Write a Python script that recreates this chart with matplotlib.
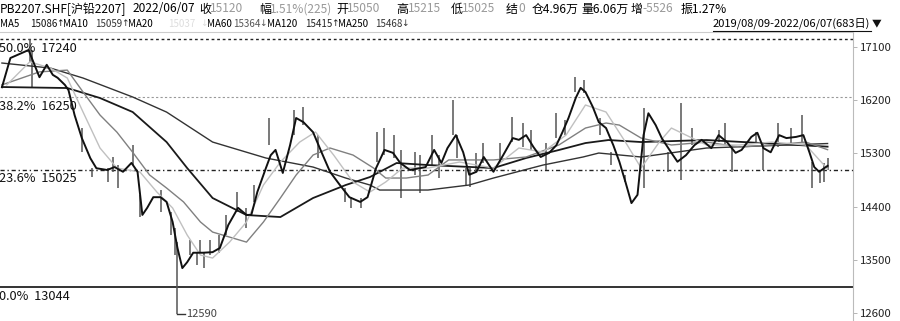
import matplotlib
matplotlib.use("Agg")
import matplotlib.pyplot as plt
from matplotlib.transforms import blended_transform_factory
from matplotlib.lines import Line2D

plt.rcParams['font.family'] = ['Noto Sans CJK SC', 'DejaVu Sans']

# MA5 path (trading-day index, price)
ma5_day = [0, 7, 22, 31, 37, 42, 46, 52, 55, 60, 66, 73, 78, 87, 93, 100, 107, 112, 116, 120,
           125, 131, 136, 141, 145, 149, 153, 158, 166, 174, 180, 187, 195, 202, 206, 211, 218,
           222, 226, 232, 238, 243, 249, 257, 264, 271, 279, 287, 296, 302, 309, 316, 323, 329,
           337, 345, 350, 357, 363, 368, 375, 381, 386, 392, 398, 406, 414, 422, 427, 433, 439,
           445, 452, 458, 463, 468, 474, 478, 482, 488, 493, 499, 505, 510, 515, 520, 525, 530,
           534, 540, 545, 553, 558, 565, 572, 578, 586, 592, 599, 606, 611, 619, 624, 629, 635,
           642, 648, 656, 662, 667, 671, 675, 682]
ma5_val = [16420, 16915, 17050, 16590, 16800, 16630, 16580, 16460, 16370, 15950, 15560, 15220,
           15050, 15020, 15070, 14990, 15140, 14990, 14260, 14380, 14560, 14560, 14480, 14140,
           13700, 13360, 13460, 13620, 13620, 13630, 13700, 14090, 14380, 14260, 14260, 14650,
           15050, 15270, 15360, 14970, 15440, 15900, 15830, 15660, 15320, 14990, 14770, 14560,
           14480, 14560, 15050, 15360, 15310, 15140, 15020, 15050, 15070, 15360, 15140, 15390,
           15610, 15320, 14940, 14990, 15240, 14990, 15270, 15560, 15530, 15610, 15410, 15240,
           15310, 15440, 15660, 15900, 16240, 16410, 16340, 16090, 15830, 15730, 15440, 15160,
           14820, 14460, 14600, 15610, 15980, 15780, 15560, 15310, 15160, 15270, 15440, 15530,
           15390, 15610, 15490, 15310, 15360, 15580, 15650, 15390, 15320, 15610, 15560, 15580,
           15610, 15320, 15070, 14990, 15090]

ma20_day = [4, 23, 40, 54, 67, 81, 95, 114, 128, 141, 153, 164, 174, 188, 202, 216, 230, 246,
            259, 274, 290, 304, 317, 331, 352, 378, 406, 427, 447, 466, 482, 499, 515, 528, 543,
            553, 582, 609, 636, 664, 682]
ma20_val = [16460, 16850, 16745, 16576, 16001, 15392, 15053, 14986, 14647, 14377, 13920, 13581,
            13530, 13800, 14140, 14766, 15155, 15493, 15663, 15273, 14817, 14647, 14817, 15053,
            15053, 15155, 15053, 15392, 15324, 15612, 16120, 16001, 15493, 15053, 15493, 15730,
            15443, 15443, 15493, 15443, 15037]

ma60_day = [0, 31, 54, 67, 81, 95, 108, 122, 136, 150, 164, 174, 202, 216, 230, 243, 257, 271,
            290, 307, 317, 334, 352, 369, 406, 433, 460, 482, 499, 510, 528, 553, 582, 609, 636,
            664, 682]
ma60_val = [16460, 16680, 16710, 16340, 15950, 15660, 15320, 14935, 14715, 14480, 14140, 13970,
            13800, 14140, 14546, 14935, 15273, 15392, 15273, 15053, 14884, 14884, 14935, 15190,
            15190, 15240, 15443, 15730, 15815, 15780, 15560, 15443, 15493, 15410, 15443, 15493,
            15364]

ma120_day = [0, 54, 81, 108, 136, 153, 174, 202, 230, 257, 284, 304, 326, 352, 406, 433, 460,
             482, 501, 528, 582, 682]
ma120_val = [16424, 16407, 16238, 16001, 15493, 15053, 14546, 14258, 14224, 14546, 14766, 14901,
             15138, 15104, 15053, 15223, 15358, 15476, 15527, 15493, 15527, 15415]

ma250_day = [0, 40, 67, 108, 136, 174, 218, 257, 284, 304, 312, 352, 386, 406, 447, 480, 493,
             528, 582, 682]
ma250_val = [16830, 16745, 16576, 16255, 16000, 15493, 15223, 15070, 14884, 14766, 14681, 14681,
             14766, 14884, 15104, 15240, 15307, 15240, 15392, 15468]

# candle high/low spikes
wick_day = [23, 25, 66, 74, 88, 92, 96, 108, 114, 131, 140, 143, 145, 155, 161, 164, 167, 172,
            179, 185, 194, 202, 208, 221, 241, 249, 261, 283, 288, 297, 310, 316, 324, 330, 341,
            345, 355, 361, 373, 376, 383, 387, 392, 397, 411, 421, 430, 437, 449, 458, 465, 473,
            481, 494, 503, 515, 530, 550, 561, 570, 592, 597, 603, 623, 629, 641, 652, 661, 669,
            676, 679, 682]
wick_hi = [17240, 17050, 15730, 15050, 15050, 15240, 15100, 15440, 14600, 14680, 14310, 14040,
           13800, 13840, 13630, 13840, 13630, 13840, 13920, 14260, 14650, 14380, 14770, 15900,
           16040, 16090, 15610, 14720, 14560, 14550, 15660, 15730, 15610, 15360, 15320, 15270,
           15610, 15270, 16200, 15610, 15050, 15050, 15310, 15480, 15480, 15920, 15820, 15700,
           15480, 15980, 15870, 16590, 16540, 15900, 15320, 14940, 16070, 15320, 16150, 15730,
           15700, 15820, 15440, 15660, 15490, 15820, 15730, 15950, 15160, 14990, 15140, 15215]
wick_lo = [16850, 16420, 15320, 14900, 14820, 14990, 14720, 15100, 14220, 14310, 13920, 13580,
           12590, 13580, 13410, 13630, 13360, 13580, 13620, 13920, 14310, 14040, 14480, 15440,
           15610, 15780, 15220, 14480, 14380, 14380, 15160, 15270, 15220, 14550, 14940, 14630,
           15100, 14880, 15610, 15220, 14770, 14730, 14990, 15140, 15160, 15490, 15410, 15360,
           15020, 15560, 15610, 16340, 16320, 15610, 15100, 14820, 14720, 14990, 14850, 15440,
           15490, 15440, 14990, 15490, 15020, 15410, 15440, 15490, 14720, 14800, 14820, 15025]

fib_pct = ["50.0%", "38.2%", "23.6%", "0.0%"]
fib_val = [17240, 16250, 15025, 13044]
y_ticks = [12600, 13500, 14400, 15300, 16200, 17100]
low_day, low_val = 145, 12590

W, H = 900, 321
fig = plt.figure(figsize=(W / 100, H / 100), dpi=100)
ax = fig.add_axes([0, 0, 853 / W, 289 / H])
ax.set_xlim(-1.6, 703)
ax.set_ylim(12465, 17355)

ax.vlines(wick_day, wick_lo, wick_hi, color="#555555", lw=1.1, zorder=2)
ax.plot(ma250_day, ma250_val, color="#333333", lw=1.0, zorder=3)
ax.plot(ma120_day, ma120_val, color="#1a1a1a", lw=1.3, zorder=3)
ax.plot(ma60_day, ma60_val, color="#808080", lw=1.0, zorder=3)
ax.plot(ma20_day, ma20_val, color="#c0c0c0", lw=1.0, zorder=3)
ax.plot(ma5_day, ma5_val, color="#111111", lw=1.4, zorder=4)

# fibonacci levels
styles = [dict(color="#222222", ls=(0, (2, 2)), lw=1.0),
          dict(color="#999999", ls=(0, (2, 2)), lw=0.8),
          dict(color="#222222", ls=(0, (3, 2, 1, 2)), lw=1.0),
          dict(color="#111111", ls="-", lw=1.2)]
tr = blended_transform_factory(fig.transFigure, ax.transData)
for p, v, st in zip(fib_pct, fib_val, styles):
    ax.axhline(v, zorder=1, **st)
    ax.annotate(f"{p}  {v}", xy=(-1 / W, v), xycoords=tr, xytext=(0, -2),
                textcoords="offset points", ha="left", va="top", fontsize=9.2, color="#111111")

# lowest price marker
ax.plot([low_day, low_day + 6], [low_val, low_val], color="#333333", lw=1.0)
ax.text(low_day + 7, low_val, str(low_val), fontsize=8, color="#444444", va="center", ha="left")

ax.yaxis.tick_right()
ax.set_yticks(y_ticks)
ax.set_yticklabels([str(t) for t in y_ticks], fontsize=8.2, color="#222222")
ax.tick_params(axis="y", length=3, width=0.6, color="#aaaaaa", pad=2)
ax.set_xticks([])
for s in ["left", "bottom"]:
    ax.spines[s].set_visible(False)
ax.spines["right"].set_color("#bbbbbb")
ax.spines["top"].set_color("#cccccc")


# header
def htext(x, y, s, c="#000000", size=8.6, **kw):
    fig.text(x / W, 1 - y / H, s, color=c, fontsize=size, ha="left", va="center", **kw)


row1 = [(0, "PB2207.SHF[沪铅2207]", "#000000"), (133, "2022/06/07", "#000000"),
        (199, "收", "#000000"), (210, "15120", "#999999"), (259, "幅", "#000000"),
        (270, "1.51%(225)", "#999999"), (336, "开", "#000000"), (347, "15050", "#999999"),
        (396, "高", "#000000"), (408, "15215", "#999999"), (451, "低", "#000000"),
        (462, "15025", "#999999"), (506, "结", "#000000"), (518, "0", "#999999"),
        (532, "仓4.96万", "#000000"), (581, "量6.06万", "#000000"), (631, "增", "#000000"),
        (642, "-5526", "#999999"), (681, "振1.27%", "#000000")]
for x, s, c in row1:
    htext(x, 9, s, c)

row2 = [(0, "MA5", "#000000"), (30, "15086", "#111111"), (63, "MA10", "#000000"),
        (95, "15059", "#333333"), (128, "MA20", "#000000"), (168, "15037", "#dddddd"),
        (207, "MA60", "#000000"), (233, "15364", "#555555"), (267, "MA120", "#000000"),
        (305, "15415", "#222222"), (338, "MA250", "#000000"), (375, "15468", "#333333")]
for x, s, c in row2:
    htext(x, 24, s, c, size=7.0)

arrows = [(56, "↑", "#111111"), (121, "↑", "#333333"), (200, "↓", "#dddddd"),
          (259, "↓", "#555555"), (331, "↑", "#222222"), (401, "↓", "#333333")]
for x, s, c in arrows:
    htext(x, 24, s, c, size=6.5, family="DejaVu Sans")

htext(713, 24, "2019/08/09-2022/06/07(683日)", "#000000", size=8.0)
fig.add_artist(Line2D([713 / W, 871 / W], [1 - 31 / H, 1 - 31 / H], color="#111111", lw=0.8))
htext(872, 23, "▼", "#111111", size=7)

fig.savefig("out.png", dpi=100)
